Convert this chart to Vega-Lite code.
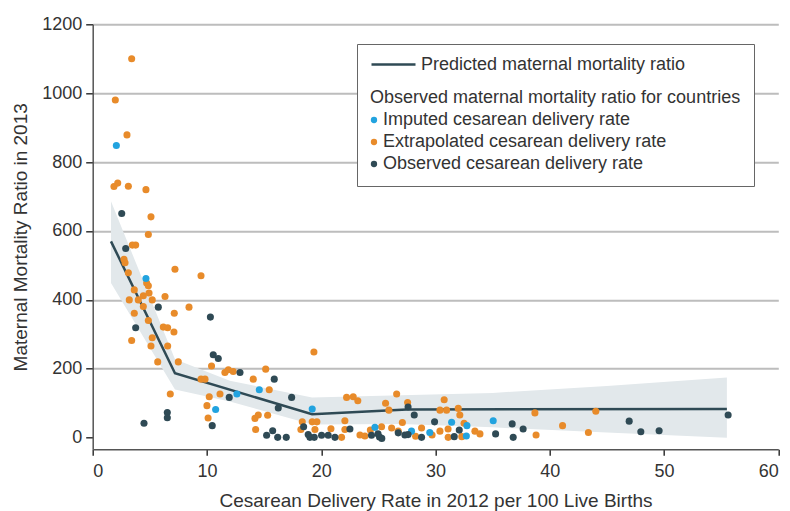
{
  "$schema": "https://vega.github.io/schema/vega-lite/v6.json",
  "autosize": {"type": "none"},
  "width": 685.6,
  "height": 425,
  "padding": {"left": 92.7, "top": 24.3, "right": 11.7, "bottom": 61.7},
  "background": "white",
  "config": {
    "view": {"stroke": null},
    "font": "Liberation Sans",
    "axis": {
      "labelFont": "Liberation Sans",
      "titleFont": "Liberation Sans",
      "labelColor": "#333333",
      "titleColor": "#333333",
      "labelFontSize": 18,
      "titleFontSize": 19,
      "titleFontWeight": "normal",
      "domainColor": "#555555",
      "domainWidth": 1.5,
      "tickColor": "#333333",
      "tickWidth": 1.5
    },
    "legend": {
      "labelFont": "Liberation Sans",
      "titleFont": "Liberation Sans",
      "labelColor": "#333333",
      "titleColor": "#333333",
      "labelFontSize": 18,
      "titleFontSize": 18,
      "titleFontWeight": "normal",
      "labelLimit": 0,
      "titleLimit": 0
    }
  },
  "datasets": {
    "band": [
      {"rate": 1.6, "lo": 449, "hi": 686},
      {"rate": 7.2, "lo": 140, "hi": 228},
      {"rate": 12, "lo": 105, "hi": 165},
      {"rate": 19.2, "lo": 38, "hi": 117},
      {"rate": 27, "lo": 40, "hi": 123},
      {"rate": 35, "lo": 30, "hi": 130},
      {"rate": 45, "lo": 15, "hi": 150},
      {"rate": 55.5, "lo": 0, "hi": 175}
    ],
    "pred": [
      {"rate": 1.6, "mmr": 570},
      {"rate": 7.2, "mmr": 187},
      {"rate": 19.2, "mmr": 68},
      {"rate": 27.5, "mmr": 82},
      {"rate": 55.5, "mmr": 83}
    ],
    "obs": [
      {"rate": 3.41, "mmr": 1100, "type": "Extrapolated cesarean delivery rate"},
      {"rate": 1.98, "mmr": 980, "type": "Extrapolated cesarean delivery rate"},
      {"rate": 3.0, "mmr": 879, "type": "Extrapolated cesarean delivery rate"},
      {"rate": 1.86, "mmr": 729, "type": "Extrapolated cesarean delivery rate"},
      {"rate": 2.19, "mmr": 739, "type": "Extrapolated cesarean delivery rate"},
      {"rate": 3.12, "mmr": 730, "type": "Extrapolated cesarean delivery rate"},
      {"rate": 4.66, "mmr": 720, "type": "Extrapolated cesarean delivery rate"},
      {"rate": 5.1, "mmr": 641, "type": "Extrapolated cesarean delivery rate"},
      {"rate": 4.87, "mmr": 590, "type": "Extrapolated cesarean delivery rate"},
      {"rate": 3.47, "mmr": 559, "type": "Extrapolated cesarean delivery rate"},
      {"rate": 3.76, "mmr": 559, "type": "Extrapolated cesarean delivery rate"},
      {"rate": 2.74, "mmr": 518, "type": "Extrapolated cesarean delivery rate"},
      {"rate": 2.83, "mmr": 508, "type": "Extrapolated cesarean delivery rate"},
      {"rate": 3.12, "mmr": 479, "type": "Extrapolated cesarean delivery rate"},
      {"rate": 7.2, "mmr": 489, "type": "Extrapolated cesarean delivery rate"},
      {"rate": 9.48, "mmr": 470, "type": "Extrapolated cesarean delivery rate"},
      {"rate": 4.72, "mmr": 449, "type": "Extrapolated cesarean delivery rate"},
      {"rate": 4.87, "mmr": 441, "type": "Extrapolated cesarean delivery rate"},
      {"rate": 3.64, "mmr": 429, "type": "Extrapolated cesarean delivery rate"},
      {"rate": 4.93, "mmr": 420, "type": "Extrapolated cesarean delivery rate"},
      {"rate": 4.43, "mmr": 412, "type": "Extrapolated cesarean delivery rate"},
      {"rate": 6.33, "mmr": 410, "type": "Extrapolated cesarean delivery rate"},
      {"rate": 3.2, "mmr": 400, "type": "Extrapolated cesarean delivery rate"},
      {"rate": 3.99, "mmr": 400, "type": "Extrapolated cesarean delivery rate"},
      {"rate": 5.21, "mmr": 400, "type": "Extrapolated cesarean delivery rate"},
      {"rate": 4.43, "mmr": 381, "type": "Extrapolated cesarean delivery rate"},
      {"rate": 8.43, "mmr": 379, "type": "Extrapolated cesarean delivery rate"},
      {"rate": 7.14, "mmr": 361, "type": "Extrapolated cesarean delivery rate"},
      {"rate": 3.64, "mmr": 361, "type": "Extrapolated cesarean delivery rate"},
      {"rate": 4.87, "mmr": 340, "type": "Extrapolated cesarean delivery rate"},
      {"rate": 6.18, "mmr": 321, "type": "Extrapolated cesarean delivery rate"},
      {"rate": 6.56, "mmr": 319, "type": "Extrapolated cesarean delivery rate"},
      {"rate": 7.11, "mmr": 307, "type": "Extrapolated cesarean delivery rate"},
      {"rate": 5.21, "mmr": 290, "type": "Extrapolated cesarean delivery rate"},
      {"rate": 3.41, "mmr": 282, "type": "Extrapolated cesarean delivery rate"},
      {"rate": 5.1, "mmr": 266, "type": "Extrapolated cesarean delivery rate"},
      {"rate": 6.56, "mmr": 266, "type": "Extrapolated cesarean delivery rate"},
      {"rate": 5.69, "mmr": 220, "type": "Extrapolated cesarean delivery rate"},
      {"rate": 7.49, "mmr": 220, "type": "Extrapolated cesarean delivery rate"},
      {"rate": 10.4, "mmr": 208, "type": "Extrapolated cesarean delivery rate"},
      {"rate": 11.57, "mmr": 189, "type": "Extrapolated cesarean delivery rate"},
      {"rate": 11.87, "mmr": 197, "type": "Extrapolated cesarean delivery rate"},
      {"rate": 12.3, "mmr": 192, "type": "Extrapolated cesarean delivery rate"},
      {"rate": 9.48, "mmr": 170, "type": "Extrapolated cesarean delivery rate"},
      {"rate": 9.83, "mmr": 170, "type": "Extrapolated cesarean delivery rate"},
      {"rate": 11.14, "mmr": 127, "type": "Extrapolated cesarean delivery rate"},
      {"rate": 6.79, "mmr": 127, "type": "Extrapolated cesarean delivery rate"},
      {"rate": 10.2, "mmr": 119, "type": "Extrapolated cesarean delivery rate"},
      {"rate": 10.0, "mmr": 93, "type": "Extrapolated cesarean delivery rate"},
      {"rate": 10.1, "mmr": 57, "type": "Extrapolated cesarean delivery rate"},
      {"rate": 19.36, "mmr": 249, "type": "Extrapolated cesarean delivery rate"},
      {"rate": 15.14, "mmr": 199, "type": "Extrapolated cesarean delivery rate"},
      {"rate": 14.05, "mmr": 170, "type": "Extrapolated cesarean delivery rate"},
      {"rate": 15.45, "mmr": 139, "type": "Extrapolated cesarean delivery rate"},
      {"rate": 14.49, "mmr": 66, "type": "Extrapolated cesarean delivery rate"},
      {"rate": 14.2, "mmr": 56, "type": "Extrapolated cesarean delivery rate"},
      {"rate": 15.31, "mmr": 65, "type": "Extrapolated cesarean delivery rate"},
      {"rate": 14.26, "mmr": 24, "type": "Extrapolated cesarean delivery rate"},
      {"rate": 18.34, "mmr": 46, "type": "Extrapolated cesarean delivery rate"},
      {"rate": 19.21, "mmr": 46, "type": "Extrapolated cesarean delivery rate"},
      {"rate": 19.62, "mmr": 46, "type": "Extrapolated cesarean delivery rate"},
      {"rate": 18.22, "mmr": 24, "type": "Extrapolated cesarean delivery rate"},
      {"rate": 19.45, "mmr": 24, "type": "Extrapolated cesarean delivery rate"},
      {"rate": 20.85, "mmr": 26, "type": "Extrapolated cesarean delivery rate"},
      {"rate": 21.78, "mmr": 1, "type": "Extrapolated cesarean delivery rate"},
      {"rate": 22.07, "mmr": 49, "type": "Extrapolated cesarean delivery rate"},
      {"rate": 22.07, "mmr": 24, "type": "Extrapolated cesarean delivery rate"},
      {"rate": 22.22, "mmr": 117, "type": "Extrapolated cesarean delivery rate"},
      {"rate": 22.8, "mmr": 119, "type": "Extrapolated cesarean delivery rate"},
      {"rate": 23.2, "mmr": 107, "type": "Extrapolated cesarean delivery rate"},
      {"rate": 26.6, "mmr": 127, "type": "Extrapolated cesarean delivery rate"},
      {"rate": 25.63, "mmr": 100, "type": "Extrapolated cesarean delivery rate"},
      {"rate": 25.92, "mmr": 80, "type": "Extrapolated cesarean delivery rate"},
      {"rate": 27.56, "mmr": 102, "type": "Extrapolated cesarean delivery rate"},
      {"rate": 30.76, "mmr": 110, "type": "Extrapolated cesarean delivery rate"},
      {"rate": 30.39, "mmr": 80, "type": "Extrapolated cesarean delivery rate"},
      {"rate": 30.97, "mmr": 80, "type": "Extrapolated cesarean delivery rate"},
      {"rate": 31.99, "mmr": 85, "type": "Extrapolated cesarean delivery rate"},
      {"rate": 32.13, "mmr": 66, "type": "Extrapolated cesarean delivery rate"},
      {"rate": 32.5, "mmr": 42, "type": "Extrapolated cesarean delivery rate"},
      {"rate": 23.39, "mmr": 8, "type": "Extrapolated cesarean delivery rate"},
      {"rate": 23.82, "mmr": 5, "type": "Extrapolated cesarean delivery rate"},
      {"rate": 24.3, "mmr": 22, "type": "Extrapolated cesarean delivery rate"},
      {"rate": 25.28, "mmr": 32, "type": "Extrapolated cesarean delivery rate"},
      {"rate": 26.16, "mmr": 28, "type": "Extrapolated cesarean delivery rate"},
      {"rate": 26.74, "mmr": 19, "type": "Extrapolated cesarean delivery rate"},
      {"rate": 27.1, "mmr": 44, "type": "Extrapolated cesarean delivery rate"},
      {"rate": 28.78, "mmr": 28, "type": "Extrapolated cesarean delivery rate"},
      {"rate": 28.26, "mmr": 4, "type": "Extrapolated cesarean delivery rate"},
      {"rate": 29.7, "mmr": 8, "type": "Extrapolated cesarean delivery rate"},
      {"rate": 30.39, "mmr": 19, "type": "Extrapolated cesarean delivery rate"},
      {"rate": 31.1, "mmr": 25, "type": "Extrapolated cesarean delivery rate"},
      {"rate": 31.11, "mmr": 1, "type": "Extrapolated cesarean delivery rate"},
      {"rate": 32.3, "mmr": 3, "type": "Extrapolated cesarean delivery rate"},
      {"rate": 33.45, "mmr": 19, "type": "Extrapolated cesarean delivery rate"},
      {"rate": 33.89, "mmr": 11, "type": "Extrapolated cesarean delivery rate"},
      {"rate": 38.7, "mmr": 72, "type": "Extrapolated cesarean delivery rate"},
      {"rate": 38.8, "mmr": 8, "type": "Extrapolated cesarean delivery rate"},
      {"rate": 41.12, "mmr": 35, "type": "Extrapolated cesarean delivery rate"},
      {"rate": 44.03, "mmr": 77, "type": "Extrapolated cesarean delivery rate"},
      {"rate": 43.38, "mmr": 15, "type": "Extrapolated cesarean delivery rate"},
      {"rate": 2.07, "mmr": 848, "type": "Imputed cesarean delivery rate"},
      {"rate": 4.66, "mmr": 462, "type": "Imputed cesarean delivery rate"},
      {"rate": 10.76, "mmr": 82, "type": "Imputed cesarean delivery rate"},
      {"rate": 14.58, "mmr": 139, "type": "Imputed cesarean delivery rate"},
      {"rate": 12.62, "mmr": 127, "type": "Imputed cesarean delivery rate"},
      {"rate": 19.21, "mmr": 83, "type": "Imputed cesarean delivery rate"},
      {"rate": 24.7, "mmr": 30, "type": "Imputed cesarean delivery rate"},
      {"rate": 27.9, "mmr": 19, "type": "Imputed cesarean delivery rate"},
      {"rate": 29.5, "mmr": 15, "type": "Imputed cesarean delivery rate"},
      {"rate": 31.41, "mmr": 45, "type": "Imputed cesarean delivery rate"},
      {"rate": 32.75, "mmr": 35, "type": "Imputed cesarean delivery rate"},
      {"rate": 32.7, "mmr": 5, "type": "Imputed cesarean delivery rate"},
      {"rate": 35.05, "mmr": 49, "type": "Imputed cesarean delivery rate"},
      {"rate": 2.54, "mmr": 651, "type": "Observed cesarean delivery rate"},
      {"rate": 2.89, "mmr": 549, "type": "Observed cesarean delivery rate"},
      {"rate": 5.74, "mmr": 379, "type": "Observed cesarean delivery rate"},
      {"rate": 10.3, "mmr": 350, "type": "Observed cesarean delivery rate"},
      {"rate": 3.76, "mmr": 319, "type": "Observed cesarean delivery rate"},
      {"rate": 10.55, "mmr": 241, "type": "Observed cesarean delivery rate"},
      {"rate": 10.99, "mmr": 230, "type": "Observed cesarean delivery rate"},
      {"rate": 11.95, "mmr": 117, "type": "Observed cesarean delivery rate"},
      {"rate": 6.53, "mmr": 73, "type": "Observed cesarean delivery rate"},
      {"rate": 6.53, "mmr": 58, "type": "Observed cesarean delivery rate"},
      {"rate": 4.49, "mmr": 42, "type": "Observed cesarean delivery rate"},
      {"rate": 10.46, "mmr": 35, "type": "Observed cesarean delivery rate"},
      {"rate": 12.89, "mmr": 189, "type": "Observed cesarean delivery rate"},
      {"rate": 15.89, "mmr": 170, "type": "Observed cesarean delivery rate"},
      {"rate": 17.41, "mmr": 117, "type": "Observed cesarean delivery rate"},
      {"rate": 16.24, "mmr": 86, "type": "Observed cesarean delivery rate"},
      {"rate": 15.75, "mmr": 20, "type": "Observed cesarean delivery rate"},
      {"rate": 15.22, "mmr": 7, "type": "Observed cesarean delivery rate"},
      {"rate": 16.19, "mmr": 1, "type": "Observed cesarean delivery rate"},
      {"rate": 16.94, "mmr": 1, "type": "Observed cesarean delivery rate"},
      {"rate": 18.46, "mmr": 32, "type": "Observed cesarean delivery rate"},
      {"rate": 18.86, "mmr": 9, "type": "Observed cesarean delivery rate"},
      {"rate": 19.01, "mmr": 1, "type": "Observed cesarean delivery rate"},
      {"rate": 19.39, "mmr": 1, "type": "Observed cesarean delivery rate"},
      {"rate": 20.03, "mmr": 7, "type": "Observed cesarean delivery rate"},
      {"rate": 20.61, "mmr": 7, "type": "Observed cesarean delivery rate"},
      {"rate": 21.2, "mmr": 1, "type": "Observed cesarean delivery rate"},
      {"rate": 22.51, "mmr": 25, "type": "Observed cesarean delivery rate"},
      {"rate": 24.4, "mmr": 7, "type": "Observed cesarean delivery rate"},
      {"rate": 25.1, "mmr": 2, "type": "Observed cesarean delivery rate"},
      {"rate": 25.3, "mmr": -2, "type": "Observed cesarean delivery rate"},
      {"rate": 24.97, "mmr": 11, "type": "Observed cesarean delivery rate"},
      {"rate": 26.74, "mmr": 14, "type": "Observed cesarean delivery rate"},
      {"rate": 27.32, "mmr": 8, "type": "Observed cesarean delivery rate"},
      {"rate": 27.6, "mmr": 9, "type": "Observed cesarean delivery rate"},
      {"rate": 27.6, "mmr": 89, "type": "Observed cesarean delivery rate"},
      {"rate": 28.14, "mmr": 66, "type": "Observed cesarean delivery rate"},
      {"rate": 28.78, "mmr": 1, "type": "Observed cesarean delivery rate"},
      {"rate": 29.92, "mmr": 46, "type": "Observed cesarean delivery rate"},
      {"rate": 32.08, "mmr": 22, "type": "Observed cesarean delivery rate"},
      {"rate": 31.64, "mmr": 3, "type": "Observed cesarean delivery rate"},
      {"rate": 35.26, "mmr": 11, "type": "Observed cesarean delivery rate"},
      {"rate": 36.71, "mmr": 40, "type": "Observed cesarean delivery rate"},
      {"rate": 37.67, "mmr": 25, "type": "Observed cesarean delivery rate"},
      {"rate": 36.8, "mmr": 1, "type": "Observed cesarean delivery rate"},
      {"rate": 46.95, "mmr": 48, "type": "Observed cesarean delivery rate"},
      {"rate": 47.97, "mmr": 17, "type": "Observed cesarean delivery rate"},
      {"rate": 49.57, "mmr": 20, "type": "Observed cesarean delivery rate"},
      {"rate": 55.61, "mmr": 66, "type": "Observed cesarean delivery rate"}
    ]
  },
  "layer": [
    {
      "data": {"name": "band"},
      "mark": {"type": "area", "color": "#e2e8eb", "opacity": 1},
      "encoding": {
        "x": {"field": "rate", "type": "quantitative", "scale": {"domain": [0, 60], "nice": false, "zero": false},
          "axis": {"values": [0, 10, 20, 30, 40, 50, 60], "grid": false, "tickSize": 6, "labelPadding": 7, "title": "Cesarean Delivery Rate in 2012 per 100 Live Births", "titlePadding": 11}},
        "y": {"field": "lo", "type": "quantitative", "scale": {"domain": [-33.7, 1200], "nice": false, "zero": false},
          "axis": {"values": [0, 200, 400, 600, 800, 1000, 1200], "format": "d", "grid": true, "gridColor": {"condition": {"test": "datum.value === 0", "value": "transparent"}, "value": "#bdbdbd"}, "gridWidth": 2, "zindex": 0, "tickSize": 7, "labelPadding": 4, "title": "Maternal Mortality Ratio in 2013", "titlePadding": 11}},
        "y2": {"field": "hi"}
      }
    },
    {
      "data": {"name": "pred"},
      "mark": {"type": "line", "strokeWidth": 2.5},
      "encoding": {
        "x": {"field": "rate", "type": "quantitative"},
        "y": {"field": "mmr", "type": "quantitative"},
        "stroke": {
          "datum": "Predicted maternal mortality ratio",
          "scale": {"range": ["#2f4a55"]},
          "legend": {"title": null, "orient": "none", "legendX": 277.3, "legendY": 16.7, "padding": 0, "symbolType": "stroke", "symbolSize": 1936, "symbolStrokeWidth": 2.5, "labelOffset": 4, "zindex": 1}
        }
      }
    },
    {
      "data": {"name": "obs"},
      "mark": {"type": "point", "filled": true, "opacity": 1, "size": 50},
      "encoding": {
        "x": {"field": "rate", "type": "quantitative"},
        "y": {"field": "mmr", "type": "quantitative"},
        "color": {
          "field": "type",
          "type": "nominal",
          "scale": {
            "domain": ["Imputed cesarean delivery rate", "Extrapolated cesarean delivery rate", "Observed cesarean delivery rate"],
            "range": ["#22a3df", "#e88b2a", "#2f4a55"]
          },
          "legend": {
            "title": ["", "Observed maternal mortality ratio for countries"],
            "orient": "none",
            "legendX": 264.3,
            "legendY": 19.7,
            "padding": 13,
            "strokeColor": "#666666",
            "fillColor": "white",
            "titleLineHeight": 32,
            "titlePadding": 4,
            "rowPadding": 4,
            "symbolSize": 40,
            "symbolType": "circle",
            "symbolStrokeWidth": 0,
            "symbolOffset": -5,
            "labelOffset": 0,
            "zindex": 0
          }
        }
      }
    }
  ]
}
